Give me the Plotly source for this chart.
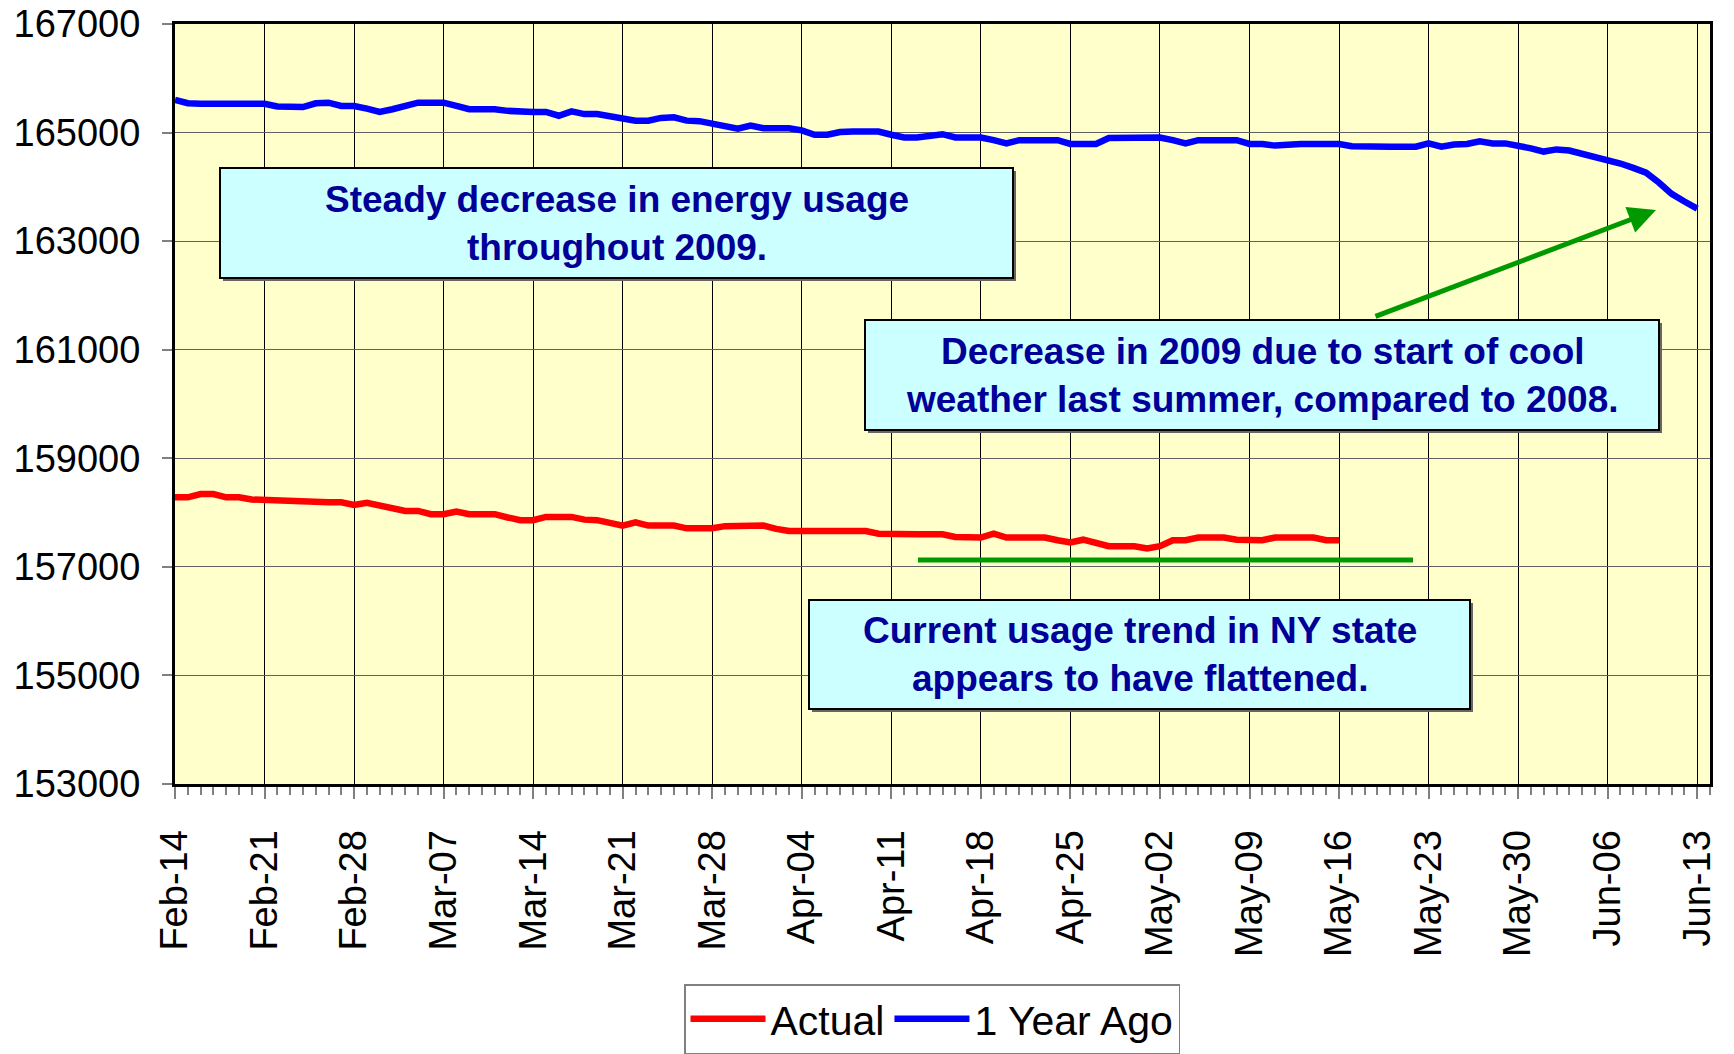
import pandas as pd
import plotly.graph_objects as go

# ---- data ----
start_date = "2010-02-14"
actual_values = [
    158280, 158280, 158340, 158340, 158280, 158280, 158240, 158230, 158230, 158230,
    158190, 158190, 158190, 158190, 158140, 158180, 158140, 158080, 158030, 158030,
    157970, 157970, 158020, 157970, 157970, 157970, 157910, 157860, 157860, 157920,
    157920, 157920, 157870, 157860, 157810, 157760, 157820, 157760, 157760, 157760,
    157710, 157710, 157710, 157750, 157760, 157760, 157760, 157700, 157660, 157660,
    157660, 157660, 157660, 157660, 157660, 157610, 157600, 157600, 157600, 157600,
    157600, 157550, 157540, 157540, 157610, 157540, 157540, 157540, 157540, 157490,
    157450, 157500, 157440, 157380, 157380, 157380, 157340, 157380, 157490, 157490,
    157540, 157540, 157540, 157500, 157490, 157490, 157540, 157540, 157540, 157540,
    157490, 157490,
]
year_ago_values = [
    165600, 165540, 165530, 165530, 165530, 165530, 165530, 165530, 165480, 165470,
    165470, 165540, 165550, 165490, 165490, 165440, 165380, 165430, 165490, 165550,
    165550, 165550, 165490, 165430, 165430, 165430, 165400, 165380, 165380, 165380,
    165310, 165390, 165340, 165340, 165300, 165280, 165220, 165220, 165270, 165280,
    165220, 165210, 165170, 165120, 165070, 165130, 165080, 165080, 165080, 165040,
    164960, 164960, 165010, 165020, 165020, 165020, 164960, 164910, 164910, 164940,
    164970, 164910, 164910, 164910, 164860, 164800, 164860, 164860, 164860, 164860,
    164790, 164790, 164790, 164900, 164910, 164910, 164910, 164910, 164860, 164800,
    164860, 164860, 164860, 164860, 164790, 164790, 164760, 164790, 164790, 164790,
    164790, 164790, 164750, 164740, 164740, 164740, 164740, 164740, 164800, 164740,
    164780, 164790, 164840, 164800, 164800, 164770, 164710, 164650, 164690, 164670,
    164610, 164560, 164510, 164430, 164350, 164260, 164080, 163870, 163730, 163600,
]
y_ticks = [153000, 155000, 157000, 159000, 161000, 163000, 165000, 167000]

dates_actual = pd.date_range(start_date, periods=len(actual_values), freq="D")
dates_year_ago = pd.date_range(start_date, periods=len(year_ago_values), freq="D")

# ---- figure (page body adds an 8px offset) ----
OFF = 8
W, H = 1734 - OFF, 1054 - OFF
PX0, PX1, PY0, PY1 = 175, 1710, 24, 784  # plot area in screen pixels
L, R, T, B = PX0 - OFF, W - (PX1 - OFF), PY0 - OFF, H - (PY1 - OFF)
pw, ph = PX1 - PX0, PY1 - PY0


def px_x(px):
    return (px - PX0) / pw


def px_y(py):
    return (PY1 - py) / ph


fig = go.Figure()
fig.add_trace(go.Scatter(x=dates_actual, y=actual_values, name="Actual", mode="lines",
                         line=dict(color="#FF0000", width=6.5)))
fig.add_trace(go.Scatter(x=dates_year_ago, y=year_ago_values, name="1 Year Ago", mode="lines",
                         line=dict(color="#0000FF", width=6.5)))

text_font = dict(family="Liberation Sans, Arial", size=37, color="#000099")
boxes = [
    ((220, 168, 1013, 278), "<b>Steady decrease in energy usage<br>throughout 2009.</b>"),
    ((865, 320, 1659, 430), "<b>Decrease in 2009 due to start of cool<br>weather last summer, compared to 2008.</b>"),
    ((809, 600, 1470, 709), "<b>Current usage trend in NY state<br>appears to have flattened.</b>"),
]
shapes = []
annotations = []
for (x0, y0, x1, y1), txt in boxes:
    shapes.append(dict(type="rect", xref="paper", yref="paper",
                       x0=px_x(x0 + 3), x1=px_x(x1 + 3), y0=px_y(y1 + 3), y1=px_y(y0 + 3),
                       fillcolor="#666666", line=dict(width=0), layer="above"))
    shapes.append(dict(type="rect", xref="paper", yref="paper",
                       x0=px_x(x0), x1=px_x(x1), y0=px_y(y1), y1=px_y(y0),
                       fillcolor="#CCFFFF", line=dict(color="black", width=2), layer="above"))
    annotations.append(dict(xref="paper", yref="paper", x=px_x((x0 + x1) / 2), y=px_y((y0 + y1) / 2),
                            text=txt, showarrow=False, font=text_font, align="center",
                            xanchor="center", yanchor="middle"))

# green flat trend line
shapes.append(dict(type="line", xref="paper", yref="paper",
                   x0=px_x(918), x1=px_x(1413), y0=px_y(560), y1=px_y(560),
                   line=dict(color="#009900", width=5)))
# green arrow
annotations.append(dict(xref="paper", yref="paper", x=px_x(1656), y=px_y(210),
                        ax=1374 - 1656, ay=317 - 210, axref="pixel", ayref="pixel",
                        text="", showarrow=True, arrowhead=2, arrowsize=1.1, arrowwidth=5,
                        arrowcolor="#009900", standoff=0))

fig.update_layout(
    width=W, height=H,
    margin=dict(l=L, r=R, t=T, b=B, autoexpand=False),
    paper_bgcolor="white", plot_bgcolor="#FFFFCC",
    font=dict(family="Liberation Sans, Arial", size=38, color="black"),
    shapes=shapes, annotations=annotations,
    showlegend=True,
    legend=dict(orientation="h", x=px_x(932), y=px_y(984), xanchor="center", yanchor="top",
                bordercolor="#808080", borderwidth=1.5, bgcolor="white",
                font=dict(size=41), itemwidth=75),
)
fig.update_xaxes(
    type="date", range=["2010-02-14", "2010-06-14"], automargin=False,
    tick0="2010-02-14", dtick=7 * 86400000, tickformat="%b-%d", tickangle=-90,
    ticks="outside", ticklen=12, tickcolor="#808080", tickwidth=1.5,
    minor=dict(dtick=86400000, ticks="outside", ticklen=8, tickcolor="#808080", showgrid=False),
    showgrid=True, gridcolor="black", gridwidth=1,
    showline=True, linecolor="black", linewidth=3, mirror=True,
    tickfont=dict(size=38), ticklabelstandoff=16, ticklabeloverflow="allow",
)
fig.update_yaxes(
    range=[153000, 167000], tickvals=y_ticks, tickformat="d", automargin=False,
    ticks="outside", ticklen=10, tickcolor="#808080", tickwidth=1.5,
    showgrid=True, gridcolor="#606060", gridwidth=1,
    showline=True, linecolor="black", linewidth=3, mirror=True,
    tickfont=dict(size=38), ticklabelstandoff=14, zeroline=False,
    ticklabeloverflow="allow",
)

fig.write_html("out.html")
